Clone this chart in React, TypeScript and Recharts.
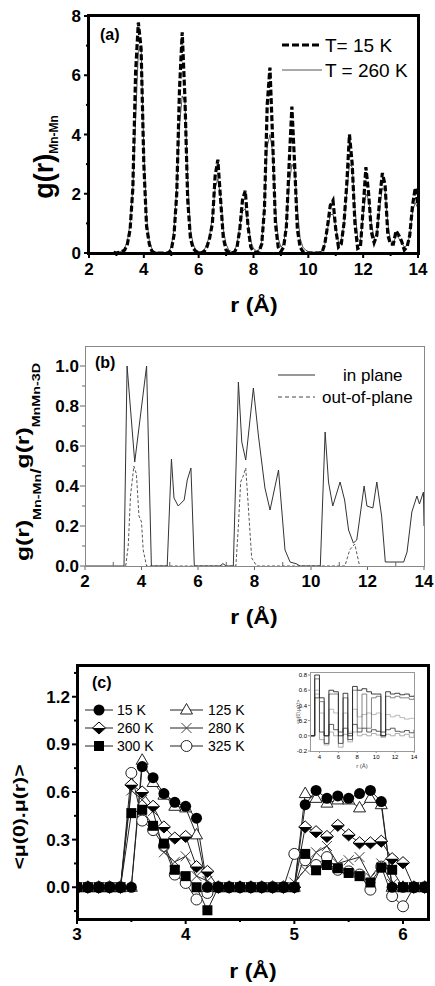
import React from "react";
import { LineChart, Line, XAxis, YAxis } from "recharts";

document.body.style.margin = "0";

const FONT = "'Liberation Sans', Arial, Helvetica, sans-serif";

// ---- panel (a): g(r) Mn-Mn ----
const rA = [
  2.9, 3.0, 3.1, 3.2, 3.3, 3.4, 3.5, 3.6, 3.7, 3.8, 3.9, 4.0, 4.1, 4.2, 4.3, 4.4, 4.5, 4.6, 4.7, 4.8,
  4.9, 5.0, 5.1, 5.2, 5.3, 5.4, 5.5, 5.6, 5.7, 5.8, 5.9, 6.0, 6.1, 6.2, 6.3, 6.4, 6.5, 6.6, 6.7, 6.8,
  6.9, 7.0, 7.1, 7.2, 7.3, 7.4, 7.5, 7.6, 7.7, 7.8, 7.9, 8.0, 8.1, 8.2, 8.3, 8.4, 8.5, 8.6, 8.7, 8.8,
  8.9, 9.0, 9.1, 9.2, 9.3, 9.4, 9.5, 9.6, 9.7, 9.8, 9.9, 10.0, 10.1, 10.2, 10.3, 10.4, 10.5, 10.6, 10.7, 10.8,
  10.9, 11.0, 11.1, 11.2, 11.3, 11.4, 11.5, 11.6, 11.7, 11.8, 11.9, 12.0, 12.1, 12.2, 12.3, 12.4, 12.5, 12.6, 12.7, 12.8,
  12.9, 13.0, 13.1, 13.2, 13.3, 13.4, 13.5, 13.6, 13.7, 13.8, 13.9, 14.0,
];
const g15K = [
  0.02, 0.0, 0.02, 0.05, 0.1, 0.3, 0.8, 2.2, 6.1, 7.78, 6.9, 3.0, 0.9, 0.3, 0.05, 0.0, 0.0, 0.0, 0.0, 0.0,
  0.0, 0.1, 0.6, 2.0, 5.5, 7.45, 5.2, 1.8, 0.5, 0.15, 0.05, 0.0, 0.0, 0.05, 0.2, 0.5, 1.0, 2.6, 3.15, 1.8,
  0.5, 0.1, 0.02, 0.0, 0.02, 0.2, 0.8, 1.8, 2.1, 0.9, 0.2, 0.05, 0.0, 0.05, 0.3, 1.5, 5.0, 6.26, 3.8, 1.0,
  0.2, 0.05, 0.2, 0.9, 3.0, 4.94, 3.0, 0.8, 0.2, 0.05, 0.0, 0.0, 0.0, 0.0, 0.0, 0.0, 0.02, 0.3, 0.9, 1.6,
  1.77, 0.8, 0.2, 0.3, 1.0, 2.3, 4.0, 3.0, 1.0, 0.15, 0.2, 1.5, 2.9, 2.0, 0.7, 0.35, 0.6, 1.8, 2.7, 2.3,
  0.6, 0.3, 0.3, 0.75, 0.6, 0.4, 0.1, 0.2, 0.6, 1.6, 2.2, 1.6,
];
const g260K = [
  0.03, 0.02, 0.03, 0.06, 0.15, 0.4, 1.0, 2.2, 4.5, 6.8, 7.0, 3.5, 1.2, 0.4, 0.12, 0.04, 0.02, 0.01, 0.01, 0.02,
  0.05, 0.2, 0.8, 2.2, 4.3, 5.3, 5.1, 2.5, 0.8, 0.3, 0.1, 0.05, 0.05, 0.1, 0.3, 0.6, 1.2, 2.2, 2.5, 1.9,
  0.8, 0.3, 0.1, 0.05, 0.05, 0.3, 0.9, 1.4, 1.5, 1.0, 0.4, 0.15, 0.08, 0.1, 0.4, 1.6, 3.6, 4.0, 3.4, 1.5,
  0.5, 0.2, 0.3, 1.0, 2.3, 3.0, 2.8, 1.5, 0.5, 0.2, 0.1, 0.05, 0.03, 0.03, 0.03, 0.03, 0.05, 0.3, 0.8, 1.3,
  1.3, 0.9, 0.35, 0.4, 1.0, 2.0, 3.0, 2.9, 1.5, 0.5, 0.4, 1.3, 2.0, 1.8, 1.0, 0.5, 0.7, 1.5, 2.2, 2.1,
  1.0, 0.4, 0.3, 0.6, 0.5, 0.35, 0.2, 0.25, 0.6, 1.4, 1.7, 1.5,
];

// ---- panel (b): in plane / out-of-plane ratio ----
const inPlaneR = [
  2.0, 3.38, 3.49, 3.76, 4.18, 4.35, 4.91, 5.06, 5.15, 5.3, 5.51, 5.62, 5.75, 5.87, 6.78, 6.88, 7.0, 7.25,
  7.43, 7.55, 7.69, 7.96, 8.14, 8.37, 8.55, 8.85, 9.08, 9.26, 9.5, 9.61, 10.33, 10.5, 10.62, 10.77, 11.03,
  11.19, 11.33, 11.5, 11.62, 11.88, 11.98, 12.19, 12.33, 12.5, 12.63, 13.28, 13.4, 13.57, 13.75, 13.84, 13.98, 14.0,
];
const inPlaneV = [
  0, 0, 1.0, 0.52, 1.0, 0, 0, 0.535, 0.34, 0.3, 0.33, 0.43, 0.49, 0, 0, 0.012, 0, 0,
  0.92, 0.62, 0.53, 0.89, 0.65, 0.39, 0.28, 0.48, 0.08, 0.02, 0.01, 0, 0, 0.67, 0.42, 0.3, 0.42,
  0.33, 0.18, 0.115, 0.13, 0.4, 0.3, 0.29, 0.42, 0.25, 0.02, 0.02, 0.07, 0.27, 0.35, 0.31, 0.37, 0.2,
];
const outPlaneR = [
  3.44, 3.53, 3.61, 3.73, 3.82, 3.91, 4.0, 4.06, 4.18, 7.34, 7.43, 7.51, 7.6, 7.69, 7.78, 7.9, 8.08,
  11.2, 11.37, 11.55, 11.72,
];
const outPlaneV = [
  0, 0.1, 0.35, 0.5, 0.46, 0.25, 0.22, 0.08, 0, 0, 0.2, 0.42, 0.45, 0.49, 0.3, 0.04, 0,
  0, 0.08, 0.11, 0,
];

// ---- panel (c): <mu(0).mu(r)> ----
const rC = [
  3.0, 3.1, 3.2, 3.3, 3.4, 3.5, 3.6, 3.7, 3.8, 3.9, 4.0, 4.1, 4.2, 4.3, 4.4, 4.5, 4.6,
  4.7, 4.8, 4.9, 5.0, 5.1, 5.2, 5.3, 5.4, 5.5, 5.6, 5.7, 5.8, 5.9, 6.0, 6.1, 6.2,
];
const mu15K = [
  0, 0, 0, 0, 0, 0, 0.76, 0.69, 0.59, 0.535, 0.51, 0.435, 0, 0, 0, 0, 0,
  0, 0, 0, 0, 0.52, 0.61, 0.56, 0.575, 0.56, 0.59, 0.61, 0.54, 0, 0, 0, 0,
];
const mu125K = [
  0, 0, 0, 0, 0, 0, 0.8, 0.66, 0.58, 0.51, 0.5, 0.33, 0, 0, 0, 0, 0,
  0, 0, 0, 0, 0.59, 0.56, 0.53, 0.55, 0.55, 0.5, 0.56, 0.52, 0, 0, 0, 0,
];
const mu260K = [
  0, 0, 0, 0, 0, 0.645, 0.6, 0.51, 0.38, 0.31, 0.32, 0.13, 0.1, 0, 0, 0, 0,
  0, 0, 0, 0, 0.38, 0.35, 0.32, 0.39, 0.33, 0.28, 0.28, 0.29, 0.18, 0.155, 0, 0,
];
const mu280K = [
  0, 0, 0, 0, 0, 0.61, 0.55, 0.48, 0.22, 0.16, 0.195, 0.07, 0.04, 0, 0, 0, 0,
  0, 0, 0, 0.03, 0.11, 0.22, 0.26, 0.15, 0.17, 0.19, 0.06, 0.15, 0.02, 0, 0, 0,
];
const mu300K = [
  0, 0, 0, 0, 0, 0.467, 0.488, 0.387, 0.275, 0.11, 0.07, 0, -0.145, 0, 0, 0, 0,
  0, 0, 0, 0, 0.21, 0.107, 0.14, 0.12, 0.09, 0.07, 0.03, 0.124, 0.11, 0, 0, 0,
];
const mu325K = [
  0, 0, 0, 0, 0, 0.72, 0.42, 0.36, 0.26, 0.08, 0.027, -0.077, -0.036, 0, 0, 0, 0,
  0, 0, 0, 0.21, 0.17, 0.14, 0.19, 0.11, 0.1, 0.08, -0.015, 0.13, -0.056, -0.12, 0, 0,
];

// ---- inset of (c) ----
const rInset = [3, 3.5, 4, 4.5, 5, 5.5, 6, 6.5, 7, 7.5, 8, 8.5, 9, 9.5, 10, 10.5, 11, 11.5, 12, 12.5, 13, 13.5, 14];
const insetA = [0, 0.8, 0.5, 0, 0.6, 0.58, 0, 0.56, 0, 0.65, 0.6, 0.62, 0.58, 0.55, 0.55, 0, 0.58, 0.55, 0.56, 0.54, 0.55, 0.52, 0.53];
const insetB = [0, 0.75, 0.45, 0, 0.55, 0.55, 0.05, 0.5, 0.03, 0.6, 0.1, 0.55, 0.1, 0.5, 0.52, 0.05, 0.52, 0.5, 0.52, 0.5, 0.5, 0.48, 0.5];
const insetC = [0, 0.6, 0.3, 0, 0.35, 0.3, 0.05, 0.3, 0.05, 0.35, 0.25, 0.28, 0.3, 0.28, 0.3, 0.05, 0.28, 0.25, 0.27, 0.24, 0.22, 0.23, 0.22];
const insetD = [0, 0.5, 0.05, -0.1, 0.15, 0.08, -0.1, 0.1, -0.05, 0.15, 0.05, 0.1, 0.05, 0.08, 0.06, 0, 0.08, 0.1, 0.06, 0.05, 0.07, 0.04, 0.08];
const insetE = [0, 0.55, -0.05, -0.12, 0.05, 0, -0.15, 0.02, -0.08, 0.05, 0, 0.02, 0, 0.03, 0.01, -0.02, 0.02, 0, 0.03, 0, 0.02, -0.02, 0.03];

// ticks
const ticksAX = [2, 3, 4, 5, 6, 7, 8, 9, 10, 11, 12, 13, 14];
const ticksAY = [0, 1, 2, 3, 4, 5, 6, 7, 8];
const ticksBY = [0, 0.1, 0.2, 0.3, 0.4, 0.5, 0.6, 0.7, 0.8, 0.9, 1.0];
const ticksCX = [3, 3.5, 4, 4.5, 5, 5.5, 6];
const ticksCY = [-0.15, 0, 0.15, 0.3, 0.45, 0.6, 0.75, 0.9, 1.05, 1.2, 1.35];
const ticksIX = [4, 6, 8, 10, 12, 14];
const ticksIY = [-0.2, 0, 0.2, 0.4, 0.6, 0.8];

const dataA = rA.map((r, i) => ({ r, g15: g15K[i], g260: g260K[i] }));
const dataB = [
  ...inPlaneR.map((r, i) => ({ r, inP: inPlaneV[i] })),
  ...outPlaneR.map((r, i) => ({ r, outP: outPlaneV[i] })),
].sort((a, b) => a.r - b.r);
const dataC = rC.map((r, i) => ({
  r, k15: mu15K[i], k125: mu125K[i], k260: mu260K[i], k280: mu280K[i], k300: mu300K[i], k325: mu325K[i],
}));
const dataI = rInset.map((r, i) => ({ r, a: insetA[i], b: insetB[i], c: insetC[i], d: insetD[i], e: insetE[i] }));

const near = (v: number, step: number) => Math.abs(v / step - Math.round(v / step)) < 1e-6;

type TickCfg = {
  major: (v: number) => boolean;
  fmt: (v: number) => string;
  majorLen: number;
  minorLen: number;
  minorIn?: boolean;
  color: string;
  width: number;
  size: number;
  weight: string;
  gap: number;
};

const xTick = (c: TickCfg) => (p: any) => {
  const v = Number(p.payload.value);
  const mj = c.major(v);
  const len = mj ? c.majorLen : c.minorLen;
  const y2 = !mj && c.minorIn ? p.y - len : p.y + len;
  return (
    <g key={`xt${p.index}`}>
      <line x1={p.x} x2={p.x} y1={p.y} y2={y2} stroke={c.color} strokeWidth={c.width} />
      {mj && (
        <text x={p.x} y={p.y + c.gap} textAnchor="middle" fontFamily={FONT} fontSize={c.size} fontWeight={c.weight} fill="#000">
          {c.fmt(v)}
        </text>
      )}
    </g>
  );
};

const yTick = (c: TickCfg) => (p: any) => {
  const v = Number(p.payload.value);
  const mj = c.major(v);
  const len = mj ? c.majorLen : c.minorLen;
  return (
    <g key={`yt${p.index}`}>
      <line x1={p.x} x2={p.x - len} y1={p.y} y2={p.y} stroke={c.color} strokeWidth={c.width} />
      {mj && (
        <text x={p.x - c.gap} y={p.y} dy="0.36em" textAnchor="end" fontFamily={FONT} fontSize={c.size} fontWeight={c.weight} fill="#000">
          {c.fmt(v)}
        </text>
      )}
    </g>
  );
};

function marker(kind: string, cx: number, cy: number, key?: string) {
  switch (kind) {
    case "circle":
      return <circle key={key} cx={cx} cy={cy} r={5.5} fill="#000" />;
    case "ocircle":
      return <circle key={key} cx={cx} cy={cy} r={5.5} fill="#fff" stroke="#222" strokeWidth={1} />;
    case "square":
      return <rect key={key} x={cx - 5} y={cy - 5} width={10} height={10} fill="#000" />;
    case "triangle":
      return (
        <polygon key={key} points={`${cx},${cy - 6.5} ${cx - 6},${cy + 4} ${cx + 6},${cy + 4}`} fill="#fff" stroke="#222" strokeWidth={1} />
      );
    case "cross":
      return (
        <g key={key} stroke="#444" strokeWidth={1}>
          <line x1={cx - 5} y1={cy - 5} x2={cx + 5} y2={cy + 5} />
          <line x1={cx - 5} y1={cy + 5} x2={cx + 5} y2={cy - 5} />
        </g>
      );
    default:
      return (
        <g key={key}>
          <polygon points={`${cx},${cy - 6} ${cx + 6.5},${cy} ${cx},${cy + 6} ${cx - 6.5},${cy}`} fill="#fff" stroke="#000" strokeWidth={1} />
          <polygon points={`${cx - 6.5},${cy} ${cx + 6.5},${cy} ${cx},${cy + 6}`} fill="#000" />
        </g>
      );
  }
}

const dotOf = (kind: string) => (p: any) =>
  p.cx == null || p.cy == null ? <g key={`n${p.index}`} /> : marker(kind, p.cx, p.cy, `d${p.index}`);

const seriesC = [
  { key: "k325", label: "325 K", kind: "ocircle" },
  { key: "k280", label: "280 K", kind: "cross" },
  { key: "k125", label: "125 K", kind: "triangle" },
  { key: "k260", label: "260 K", kind: "hdiamond" },
  { key: "k15", label: "15 K", kind: "circle" },
  { key: "k300", label: "300 K", kind: "square" },
];

const legendC = [
  { y: 710, l: ["circle", "15 K"], r: ["triangle", "125 K"] },
  { y: 728, l: ["hdiamond", "260 K"], r: ["cross", "280 K"] },
  { y: 746, l: ["square", "300 K"], r: ["ocircle", "325 K"] },
];

const abs = (left: number, top: number): React.CSSProperties => ({ position: "absolute", left, top });

export default function App() {
  return (
    <div style={{ position: "relative", width: 435, height: 986, background: "#fff", overflow: "hidden" }}>
      {/* (a) */}
      <div style={abs(0, 0)}>
        <LineChart width={435} height={330} data={dataA} margin={{ top: 16, right: 17, bottom: 47, left: 49 }}>
          <XAxis
            dataKey="r" type="number" domain={[2, 14]} ticks={ticksAX} interval={0} allowDataOverflow
            height={30} axisLine={false} tickLine={false} tickSize={0} tickMargin={0}
            tick={xTick({ major: (v) => near(v, 2), fmt: (v) => String(v), majorLen: 5, minorLen: 3, color: "#000", width: 2, size: 17, weight: "bold", gap: 22 })}
          />
          <YAxis
            type="number" domain={[0, 8]} ticks={ticksAY} interval={0} allowDataOverflow
            width={40} axisLine={false} tickLine={false} tickSize={0} tickMargin={0}
            tick={yTick({ major: (v) => near(v, 2), fmt: (v) => String(v), majorLen: 5, minorLen: 3, color: "#000", width: 2, size: 17, weight: "bold", gap: 8 })}
          />
          <Line dataKey="g260" type="linear" stroke="#555" strokeWidth={1} dot={false} activeDot={false} isAnimationActive={false} />
          <Line dataKey="g15" type="linear" stroke="#000" strokeWidth={3.2} strokeDasharray="6 2.5" dot={false} activeDot={false} isAnimationActive={false} />
        </LineChart>
      </div>
      <div style={{ ...abs(87, 14), width: 333, height: 241, border: "3px solid #000", boxSizing: "border-box" }} />

      {/* (b) */}
      <div style={abs(0, 330)}>
        <LineChart width={435} height={300} data={dataB} margin={{ top: 16, right: 11, bottom: 34, left: 45 }}>
          <XAxis
            dataKey="r" type="number" domain={[2, 14]} ticks={ticksAX} interval={0} allowDataOverflow
            height={30} axisLine={false} tickLine={false} tickSize={0} tickMargin={0}
            tick={xTick({ major: (v) => near(v, 2), fmt: (v) => String(v), majorLen: 4, minorLen: 4, minorIn: true, color: "#666", width: 1, size: 17, weight: "bold", gap: 21 })}
          />
          <YAxis
            type="number" domain={[0, 1.1]} ticks={ticksBY} interval={0} allowDataOverflow
            width={40} axisLine={false} tickLine={false} tickSize={0} tickMargin={0}
            tick={yTick({ major: (v) => near(v, 0.2), fmt: (v) => v.toFixed(1), majorLen: 5, minorLen: 3, color: "#666", width: 1, size: 17, weight: "bold", gap: 6 })}
          />
          <Line dataKey="outP" type="linear" connectNulls stroke="#444" strokeWidth={0.9} strokeDasharray="3 2" dot={false} activeDot={false} isAnimationActive={false} />
          <Line dataKey="inP" type="linear" connectNulls stroke="#333" strokeWidth={1} dot={false} activeDot={false} isAnimationActive={false} />
        </LineChart>
      </div>
      <div style={{ ...abs(85, 346), width: 340, height: 221, border: "1px solid #888", boxSizing: "border-box" }} />

      {/* (c) */}
      <div style={abs(0, 640)}>
        <LineChart width={435} height={346} data={dataC} margin={{ top: 25, right: 7, bottom: 37, left: 37 }}>
          <XAxis
            dataKey="r" type="number" domain={[3, 6.23]} ticks={ticksCX} interval={0} allowDataOverflow
            height={30} axisLine={false} tickLine={false} tickSize={0} tickMargin={0}
            tick={xTick({ major: (v) => near(v, 1), fmt: (v) => String(v), majorLen: 5, minorLen: 3, color: "#000", width: 2, size: 17, weight: "bold", gap: 21 })}
          />
          <YAxis
            type="number" domain={[-0.2, 1.4]} ticks={ticksCY} interval={0} allowDataOverflow
            width={40} axisLine={false} tickLine={false} tickSize={0} tickMargin={0}
            tick={yTick({ major: (v) => near(v, 0.3), fmt: (v) => v.toFixed(1), majorLen: 5, minorLen: 3, color: "#000", width: 2, size: 17, weight: "bold", gap: 7 })}
          />
          {seriesC.map((s) => (
            <Line
              key={s.key} dataKey={s.key} name={s.label} type="linear" stroke="#222" strokeWidth={1}
              dot={dotOf(s.kind)} activeDot={false} isAnimationActive={false}
            />
          ))}
        </LineChart>
      </div>
      <div style={{ ...abs(76, 664), width: 354, height: 257, border: "3px solid #000", boxSizing: "border-box" }} />

      {/* inset */}
      <div style={abs(280, 665)}>
        <LineChart width={145} height={115} data={dataI} margin={{ top: 7, right: 11, bottom: 14, left: 10 }}>
          <XAxis
            dataKey="r" type="number" domain={[3, 14]} ticks={ticksIX} interval={0} allowDataOverflow
            height={15} axisLine={false} tickLine={false} tickSize={0} tickMargin={0}
            tick={xTick({ major: () => true, fmt: (v) => String(v), majorLen: 2, minorLen: 2, color: "#777", width: 0.8, size: 6, weight: "normal", gap: 8 })}
          />
          <YAxis
            type="number" domain={[-0.2, 0.84]} ticks={ticksIY} interval={0} allowDataOverflow
            width={20} axisLine={false} tickLine={false} tickSize={0} tickMargin={0}
            tick={yTick({ major: () => true, fmt: (v) => v.toFixed(1), majorLen: 2, minorLen: 2, color: "#777", width: 0.8, size: 6, weight: "normal", gap: 3 })}
          />
          <Line dataKey="c" type="stepAfter" stroke="#aaa" strokeWidth={0.8} dot={false} activeDot={false} isAnimationActive={false} />
          <Line dataKey="e" type="stepAfter" stroke="#999" strokeWidth={0.8} dot={false} activeDot={false} isAnimationActive={false} />
          <Line dataKey="d" type="stepAfter" stroke="#333" strokeWidth={0.8} dot={false} activeDot={false} isAnimationActive={false} />
          <Line dataKey="b" type="stepAfter" stroke="#666" strokeWidth={0.8} dot={false} activeDot={false} isAnimationActive={false} />
          <Line dataKey="a" type="stepAfter" stroke="#111" strokeWidth={0.8} dot={false} activeDot={false} isAnimationActive={false} />
        </LineChart>
      </div>
      <div style={{ ...abs(310, 672), width: 105, height: 80, border: "1px solid #999", boxSizing: "border-box" }} />

      {/* labels and legends */}
      <svg width={435} height={986} style={{ position: "absolute", left: 0, top: 0, pointerEvents: "none" }}>
        <g fontFamily={FONT} fill="#000">
          {/* (a) */}
          <text x={100} y={40} fontSize={16} fontWeight="bold">(a)</text>
          <line x1={282} x2={322} y1={45} y2={45} stroke="#000" strokeWidth={3.2} strokeDasharray="7 3" />
          <text x={325} y={52} fontSize={19}>T= 15 K</text>
          <line x1={282} x2={322} y1={70} y2={70} stroke="#555" strokeWidth={1} />
          <text x={325} y={77} fontSize={19}>T = 260 K</text>
          <text transform="translate(254,312) scale(1.15,1)" textAnchor="middle" fontSize={20} fontWeight="bold">r (Å)</text>
          <text transform="translate(53,157) rotate(-90)" textAnchor="middle" fontWeight="bold">
            <tspan fontSize={27}>g(r)</tspan>
            <tspan fontSize={12} dy={5}>Mn-Mn</tspan>
          </text>

          {/* (b) */}
          <text x={95} y={368} fontSize={16} fontWeight="bold">(b)</text>
          <line x1={278} x2={315} y1={375} y2={375} stroke="#333" strokeWidth={1} />
          <text x={343} y={381} fontSize={17}>in plane</text>
          <line x1={278} x2={315} y1={397} y2={397} stroke="#444" strokeWidth={1} strokeDasharray="4 3" />
          <text x={322} y={403} fontSize={17}>out-of-plane</text>
          <text transform="translate(254,624) scale(1.15,1)" textAnchor="middle" fontSize={20} fontWeight="bold">r (Å)</text>
          <text transform="translate(29,462) rotate(-90) scale(1.3,1)" textAnchor="middle" fontWeight="bold">
            <tspan fontSize={19}>g(r)</tspan>
            <tspan fontSize={11} dy={12}>Mn-Mn</tspan>
            <tspan fontSize={15}>/</tspan>
            <tspan fontSize={19} dy={-12}>g(r)</tspan>
            <tspan fontSize={11} dy={11}>MnMn-3D</tspan>
          </text>

          {/* (c) */}
          <text x={92} y={688} fontSize={16} fontWeight="bold">(c)</text>
          {legendC.map((row) => (
            <g key={row.y}>
              <line x1={85} x2={113} y1={row.y} y2={row.y} stroke="#222" strokeWidth={1} />
              {marker(row.l[0], 99, row.y)}
              <text x={117} y={row.y + 5} fontSize={14}>{row.l[1]}</text>
              <line x1={170} x2={203} y1={row.y} y2={row.y} stroke="#222" strokeWidth={1} />
              {marker(row.r[0], 186.5, row.y)}
              <text x={208} y={row.y + 5} fontSize={14}>{row.r[1]}</text>
            </g>
          ))}
          <text transform="translate(253,978) scale(1.15,1)" textAnchor="middle" fontSize={20} fontWeight="bold">r (Å)</text>
          <text transform="translate(25,817) rotate(-90) scale(1.25,1)" textAnchor="middle" fontSize={17} fontWeight="bold">
            &lt;μ(0).μ(r)&gt;
          </text>
          <text x={362} y={768} textAnchor="middle" fontSize={6} fill="#444">r (Å)</text>
          <text transform="translate(300,712) rotate(-90)" textAnchor="middle" fontSize={5} fill="#444">&lt;μ(0).μ(r)&gt;</text>
        </g>
      </svg>
    </div>
  );
}
